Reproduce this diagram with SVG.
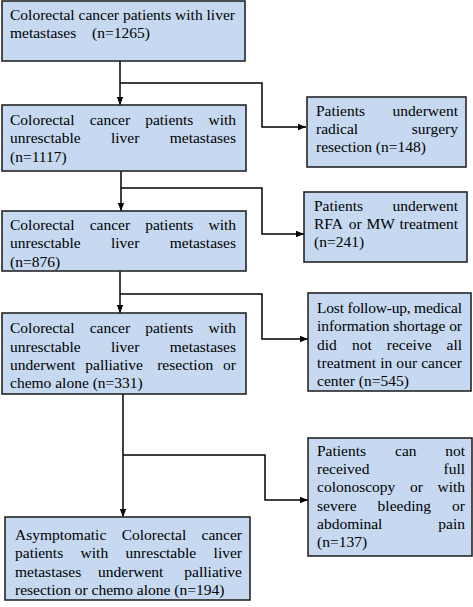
<svg xmlns="http://www.w3.org/2000/svg" width="473" height="607" viewBox="0 0 473 607">
<style>
.box{fill:#c6d9f1;stroke:#262626;stroke-width:1.6}
.t{font-family:"Liberation Serif","Times New Roman",serif;font-size:15.5px;fill:#000}
.e{text-anchor:end}
.c{fill:none;stroke:#000;stroke-width:1.5}
</style>
<defs>
<marker id="ah" markerUnits="userSpaceOnUse" markerWidth="8" markerHeight="8" viewBox="0 0 8 8" refX="8" refY="4" orient="auto">
<path d="M0,0.8 L8,4 L0,7.2 z" fill="#000"/>
</marker>
</defs>
<rect width="473" height="607" fill="#fff"/>
<g id="connectors">
<path class="c" d="M120,61 V105" marker-end="url(#ah)"/>
<path class="c" d="M120,83 H262 V127 H306" marker-end="url(#ah)"/>
<path class="c" d="M121,171 V211" marker-end="url(#ah)"/>
<path class="c" d="M121,188 H262 V234 H304" marker-end="url(#ah)"/>
<path class="c" d="M120,271 V313" marker-end="url(#ah)"/>
<path class="c" d="M120,294 H262 V339 H308" marker-end="url(#ah)"/>
<path class="c" d="M123,387 V517" marker-end="url(#ah)"/>
<path class="c" d="M123,455 H265 V500 H308" marker-end="url(#ah)"/>
</g>
<g id="n1">
<rect class="box" x="2" y="1" width="243" height="60"/>
<text class="t" x="10" y="20" textLength="225" lengthAdjust="spacing">Colorectal cancer patients with liver</text>
<text class="t" y="38"><tspan x="10">metastases</tspan><tspan x="92">(n=1265)</tspan></text>
</g>
<g id="n2">
<rect class="box" x="2" y="105" width="244" height="66"/>
<text class="t" y="125"><tspan x="10">Colorectal</tspan><tspan x="89.7">cancer</tspan><tspan x="145.2">patients</tspan></text>
<text class="t e" x="236" y="125">with</text>
<text class="t" y="143"><tspan x="10">unresctable</tspan><tspan x="111">liver</tspan></text>
<text class="t e" x="236" y="143">metastases</text>
<text class="t" x="10" y="162">(n=1117)</text>
</g>
<g id="n3">
<rect class="box" x="2" y="211" width="244" height="60"/>
<text class="t" y="230"><tspan x="10">Colorectal</tspan><tspan x="89.7">cancer</tspan><tspan x="145.2">patients</tspan></text>
<text class="t e" x="236" y="230">with</text>
<text class="t" y="248"><tspan x="10">unresctable</tspan><tspan x="111">liver</tspan></text>
<text class="t e" x="236" y="248">metastases</text>
<text class="t" x="10" y="267">(n=876)</text>
</g>
<g id="n4">
<rect class="box" x="2" y="313" width="244" height="81"/>
<text class="t" y="333"><tspan x="10">Colorectal</tspan><tspan x="89.7">cancer</tspan><tspan x="145.2">patients</tspan></text>
<text class="t e" x="236" y="333">with</text>
<text class="t" y="352"><tspan x="10">unresctable</tspan><tspan x="111">liver</tspan></text>
<text class="t e" x="236" y="352">metastases</text>
<text class="t" y="370"><tspan x="10">underwent</tspan><tspan x="85.3">palliative</tspan><tspan x="157.2">resection</tspan></text>
<text class="t e" x="236" y="370">or</text>
<text class="t" x="10" y="388">chemo alone (n=331)</text>
</g>
<g id="n5">
<rect class="box" x="5" y="517" width="245" height="83"/>
<text class="t" y="540"><tspan x="15">Asymptomatic</tspan><tspan x="121.7">Colorectal</tspan></text>
<text class="t e" x="242" y="540">cancer</text>
<text class="t" y="558"><tspan x="15">patients</tspan><tspan x="80.6">with</tspan><tspan x="125.6">unresctable</tspan></text>
<text class="t e" x="242" y="558">liver</text>
<text class="t" y="577"><tspan x="15">metastases</tspan><tspan x="98">underwent</tspan></text>
<text class="t e" x="242" y="577">palliative</text>
<text class="t" x="15" y="595">resection or chemo alone (n=194)</text>
</g>
<g id="r1">
<rect class="box" x="307" y="97" width="159" height="70"/>
<text class="t" x="316" y="116">Patients</text>
<text class="t e" x="458" y="116">underwent</text>
<text class="t" x="316" y="134">radical</text>
<text class="t e" x="458" y="134">surgery</text>
<text class="t" x="316" y="152">resection (n=148)</text>
</g>
<g id="r2">
<rect class="box" x="304" y="192" width="163" height="70"/>
<text class="t" x="314" y="211">Patients</text>
<text class="t e" x="458" y="211">underwent</text>
<text class="t" y="229"><tspan x="314">RFA</tspan><tspan x="348.8">or</tspan><tspan x="366.4">MW</tspan></text>
<text class="t e" x="458" y="229">treatment</text>
<text class="t" x="314" y="247">(n=241)</text>
</g>
<g id="r3">
<rect class="box" x="308" y="293" width="163" height="98"/>
<text class="t" x="317" y="313" textLength="145" lengthAdjust="spacing">Lost follow-up, medical</text>
<text class="t" x="317" y="331" textLength="145" lengthAdjust="spacing">information shortage or</text>
<text class="t" y="350"><tspan x="317">did</tspan><tspan x="351.9">not</tspan><tspan x="386.8">receive</tspan></text>
<text class="t e" x="462" y="350">all</text>
<text class="t" x="317" y="368" textLength="145" lengthAdjust="spacing">treatment in our cancer</text>
<text class="t" x="317" y="386">center (n=545)</text>
</g>
<g id="r4">
<rect class="box" x="308" y="438" width="164" height="118"/>
<text class="t" y="456"><tspan x="317">Patients</tspan><tspan x="395">can</tspan></text>
<text class="t e" x="465" y="456">not</text>
<text class="t" x="317" y="474">received</text>
<text class="t e" x="465" y="474">full</text>
<text class="t" y="492"><tspan x="317">colonoscopy</tspan><tspan x="410">or</tspan></text>
<text class="t e" x="465" y="492">with</text>
<text class="t" y="511"><tspan x="317">severe</tspan><tspan x="377.6">bleeding</tspan></text>
<text class="t e" x="465" y="511">or</text>
<text class="t" x="317" y="529">abdominal</text>
<text class="t e" x="465" y="529">pain</text>
<text class="t" x="317" y="547">(n=137)</text>
</g>
</svg>
